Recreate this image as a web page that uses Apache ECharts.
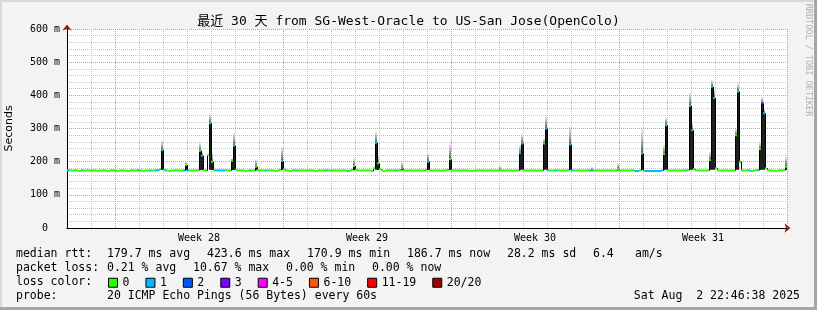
<!DOCTYPE html>
<html><head><meta charset="utf-8">
<script src="https://cdn.jsdelivr.net/npm/echarts@6/dist/echarts.min.js"></script>
<style>html,body{margin:0;padding:0;background:#f3f3f3}#c{width:817px;height:310px}</style>
</head><body><div id="c"></div>
<script>
const chartTitle = '最近 30 天 from SG-West-Oracle to US-San Jose(OpenColo)';
const stepHours = 2;
// median rtt (ms), one value per 2-hour step, one row per day
const median = [
 173,174,173,173,174,173,172,174,173,173,174,173,
 173,173,174,172,173,173,174,173,172,173,174,173,
 173,172,173,174,173,173,172,173,174,173,173,174,
 173,173,172,174,173,173,173,173,174,174,178,235,
 176,173,173,172,173,173,174,173,173,173,173,190,
 174,173,173,174,173,174,233,218,174,173,220,316,
 200,173,174,173,173,173,173,174,173,173,203,248,
 176,173,174,173,173,172,173,173,173,173,185,174,
 173,174,173,173,173,174,173,173,172,173,176,202,
 177,173,173,172,173,174,173,173,173,174,173,173,
 173,174,173,173,172,173,174,173,173,173,174,173,
 173,173,174,173,173,173,174,173,172,173,176,187,
 176,174,173,173,174,173,173,173,172,180,257,195,
 177,174,172,173,174,173,174,173,173,173,174,180,
 174,173,173,174,173,173,173,174,173,173,173,176,
 200,174,173,173,174,173,173,173,173,174,176,207,
 174,173,174,173,173,173,174,173,173,173,172,173,
 173,173,174,173,173,173,173,174,173,173,173,173,
 174,173,173,173,174,173,173,173,173,173,226,255,
 174,173,173,173,174,173,173,173,173,173,255,300,
 174,173,173,173,173,174,173,173,173,173,174,252,
 174,173,173,174,173,173,173,173,174,173,173,173,
 173,174,173,173,173,173,174,173,173,173,173,178,
 173,173,174,173,173,173,174,173,172,172,173,225,
 173,172,172,172,172,172,172,172,172,173,223,310,
 174,173,173,174,173,173,173,173,174,173,174,368,
 295,178,174,173,173,173,173,173,173,205,426,392,
 180,174,173,173,173,174,173,173,173,173,280,411,
 200,174,173,173,174,173,172,173,174,174,238,376,
 346,180,174,173,173,173,172,173,174,173,174,185
];
// steps with packet loss (index into median) and number of lost pings
const lossAt = [0,7,35,41,44,45,47,48,58,60,67,71,74,75,76,77,78,83,91,99,107,114,129,140,154,164,180,
  226,227,239,240,244,251,252,261,262,284,285,287,288,289,290,291,292,293,294,295,296,297,299,309,311,312,
  322,323,335,341,345,347,348];
const lossCount = [1,1,1,1,1,1,1,1,1,1,1,1,1,1,1,1,1,1,1,1,1,1,1,1,1,1,1,
  1,1,1,1,1,1,1,1,1,1,1,1,1,1,1,1,1,1,1,1,1,1,1,1,1,1,
  1,1,1,1,1,3,1];
// smoke (ping spread) around spikes: step index, lowest and highest ping (ms)
const smokeAt = [47,59,66,67,71,72,82,83,94,107,143,154,155,167,180,191,216,226,227,238,239,251,262,275,287,298,299,311,312,321,322,323,334,335,346,347,348,359];
const smokeLo = [175,174,175,175,176,175,175,175,174,175,174,176,175,174,175,175,173,175,176,176,176,175,173,174,175,175,176,176,176,175,176,176,176,176,175,176,176,175];
const smokeHi = [263,200,259,230,346,230,210,290,208,245,212,293,220,200,227,260,188,250,285,270,340,310,185,196,303,250,335,411,320,230,446,420,300,438,260,396,360,217];

const weekMid = [132,300,468,636];
const weekLabels = ['Week 28','Week 29','Week 30','Week 31'];

const lossClasses = ['0','1','2','3','4-5','6-10','11-19','20/20'];
const lossColors = ['#26ff00','#00b8ff','#0059ff','#7e00ff','#ff00ff','#ff5500','#ff0000','#a10000'];
const lossRanges = [[0,0],[1,1],[2,2],[3,3],[4,5],[6,10],[11,19],[20,20]];

const rttStats = [179.7, 423.6, 170.9, 186.7, 28.2];
const rttNames = ['ms avg','ms max','ms min','ms now','ms sd'];
const amPerS = 6.4;
const lossStats = [0.21, 10.67, 0.00, 0.00];
const lossNames = ['% avg','% max','% min','% now'];
const probeText = '20 ICMP Echo Pings (56 Bytes) every 60s';
const stampText = 'Sat Aug  2 22:46:38 2025';

const MONO = "'DejaVu Sans Mono','Noto Sans CJK SC',monospace";
const LFONT = '11.5px ' + MONO;
const GRID_MINOR = '#c4c4c4';
const GRID_MAJOR = '#e58c8c';

const hours = median.map((_, i) => i * stepHours);
const lossOf = median.map(() => 0);
lossAt.forEach((idx, k) => { lossOf[idx] = lossCount[k]; });
const classOf = n => lossRanges.findIndex(r => n >= r[0] && n <= r[1]);

function segItem(params, api) {
  const h = api.value(0), m = api.value(1);
  const p0 = api.coord([h, m]), p1 = api.coord([h + stepHours, m]);
  return {type: 'rect', shape: {x: p0[0], y: p0[1] - 1, width: p1[0] - p0[0], height: 2},
    style: {fill: api.visual('color')}};
}
function connItem(params, api) {
  const h = api.value(0);
  const a = api.coord([h, api.value(1)]), b = api.coord([h, api.value(2)]);
  return {type: 'line', shape: {x1: a[0] + 0.5, y1: a[1], x2: b[0] + 0.5, y2: b[1]},
    style: {stroke: '#000', lineWidth: 1}};
}
function smokeItem(params, api) {
  const h = api.value(0), lo = api.value(1), md = api.value(2), hi = api.value(3);
  const pLo = api.coord([h, lo]), pMd = api.coord([h, md]), pHi = api.coord([h, hi]);
  const w = api.coord([h + stepHours, lo])[0] - pLo[0];
  const children = [];
  if (md > lo) children.push({type: 'rect', shape: {x: pLo[0], y: pMd[1], width: w, height: pLo[1] - pMd[1]},
    style: {fill: '#1e1e1e'}});
  if (hi > md) children.push({type: 'rect', shape: {x: pLo[0], y: pHi[1], width: w, height: pMd[1] - pHi[1]},
    style: {fill: {type: 'linear', x: 0, y: 0, x2: 0, y2: 1,
      colorStops: [{offset: 0, color: 'rgba(90,90,90,0.05)'}, {offset: 1, color: 'rgba(30,30,30,0.75)'}]}}});
  return {type: 'group', children};
}

const series = [];
series.push({name: 'smoke', type: 'custom', z: 2, clip: true, renderItem: smokeItem,
  encode: {x: 0, y: [1, 3]}, silent: true,
  data: smokeAt.map((idx, k) => [hours[idx], smokeLo[k], median[idx], smokeHi[k]])});
series.push({name: 'step', type: 'custom', z: 3, clip: true, renderItem: connItem, silent: true,
  encode: {x: 0, y: [1, 2]},
  data: median.slice(1).map((m, i) => [hours[i + 1], median[i], m])});
lossClasses.forEach((name, c) => {
  series.push({name, type: 'custom', z: 4, clip: true, renderItem: segItem, silent: true,
    itemStyle: {color: lossColors[c]}, encode: {x: 0, y: 1},
    data: median.map((m, i) => [hours[i], m]).filter((_, i) => classOf(lossOf[i]) === c)});
});

const texts = [];
function addText(x, y, text, extra) {
  texts.push(Object.assign({type: 'text', x, y, silent: true,
    style: {text, font: LFONT, fill: '#000', verticalAlign: 'middle'}}, extra || {}));
}
addText(16, 254, 'median rtt:');
const rttX = [107, 207, 307, 407, 507];
rttStats.forEach((v, i) => addText(rttX[i], 254, v.toFixed(1) + ' ' + rttNames[i]));
addText(593, 254, amPerS.toFixed(1));
addText(635, 254, 'am/s');
addText(16, 268, 'packet loss:');
const lossX = [107, 193, 286, 372];
lossStats.forEach((v, i) => addText(lossX[i], 268, v.toFixed(2) + ' ' + lossNames[i]));
addText(16, 282, 'loss color:');
addText(16, 296, 'probe:');
addText(107, 296, probeText);
texts.push({type: 'text', x: 800, y: 296, silent: true,
  style: {text: stampText, font: LFONT, fill: '#000', verticalAlign: 'middle', align: 'right'}});
texts.push({type: 'text', x: 808, y: 60, rotation: -Math.PI / 2, silent: true,
  style: {text: 'RRDTOOL / TOBI OETIKER', font: '8.5px ' + MONO, fill: '#b0b0b0', align: 'center', verticalAlign: 'middle'}});
// frame
texts.push({type: 'rect', shape: {x: 0, y: 0, width: 817, height: 2}, style: {fill: '#d8d8d8'}, silent: true});
texts.push({type: 'rect', shape: {x: 0, y: 0, width: 2, height: 310}, style: {fill: '#d8d8d8'}, silent: true});
texts.push({type: 'rect', shape: {x: 814, y: 0, width: 3, height: 310}, style: {fill: '#a6a6a6'}, silent: true});
texts.push({type: 'rect', shape: {x: 0, y: 307, width: 817, height: 3}, style: {fill: '#a6a6a6'}, silent: true});

// day grid: every 7th line (starting at day 2) is a week boundary
const dayLineColors = [GRID_MINOR, GRID_MINOR, GRID_MAJOR, GRID_MINOR, GRID_MINOR, GRID_MINOR, GRID_MINOR];

const option = {
  animation: false,
  backgroundColor: '#f3f3f3',
  title: {text: chartTitle, left: 'center', top: 15, padding: 0,
    textStyle: {fontFamily: MONO, fontSize: 13, fontWeight: 'normal', color: '#000'}},
  grid: {left: 67, right: 30, top: 29, bottom: 82, show: true, backgroundColor: '#ffffff', borderWidth: 0,
    containLabel: false, outerBoundsMode: 'none'},
  legend: {data: lossClasses, left: 108, top: 277, padding: 0, itemWidth: 9, itemHeight: 9, itemGap: 16,
    icon: 'rect', selectedMode: false,
    itemStyle: {borderColor: '#000', borderWidth: 1},
    textStyle: {fontFamily: MONO, fontSize: 11.5, color: '#000', padding: 0}},
  xAxis: [
    {type: 'value', min: 0, max: 720, interval: 24, position: 'bottom', z: 1,
      axisLine: {show: true, lineStyle: {color: '#000', width: 1}},
      axisTick: {show: false}, axisLabel: {show: false},
      splitLine: {show: true, lineStyle: {color: dayLineColors, width: 1, type: [1, 1]}}},
    {type: 'value', min: 0, max: 720, position: 'bottom', z: 1,
      axisLine: {show: false},
      axisTick: {show: false},
      axisLabel: {show: true, customValues: weekMid, margin: 5,
        formatter: v => weekLabels[weekMid.indexOf(v)] || '',
        fontFamily: MONO, fontSize: 10, color: '#000'},
      splitLine: {show: false}},
    {type: 'value', min: 0, max: 720, position: 'bottom', z: 0,
      axisLine: {show: true, symbol: ['none', 'arrow'], symbolSize: [7, 6], symbolOffset: [0, 3.5],
        lineStyle: {color: '#a01010', width: 1}},
      axisTick: {show: false}, axisLabel: {show: false}, splitLine: {show: false}}
  ],
  yAxis: [
    {type: 'value', min: 0, max: 600, interval: 100, position: 'left', z: 1,
      name: 'Seconds', nameLocation: 'middle', nameGap: 52, nameRotate: 90,
      nameTextStyle: {fontFamily: "'DejaVu Sans',sans-serif", fontSize: 11, color: '#000'},
      axisLine: {show: true, lineStyle: {color: '#000', width: 1}},
      axisTick: {show: false},
      axisLabel: {margin: 7, fontFamily: MONO, fontSize: 10, color: '#000',
        formatter: v => v === 0 ? '0  ' : v + ' m'},
      minorTick: {show: false, splitNumber: 5},
      minorSplitLine: {show: true, lineStyle: {color: GRID_MINOR, width: 1, type: [1, 1]}},
      splitLine: {show: true, lineStyle: {color: GRID_MAJOR, width: 1, type: [1, 1]}}},
    {type: 'value', min: 0, max: 600, position: 'left', z: 0,
      axisLine: {show: true, symbol: ['none', 'arrow'], symbolSize: [7, 6], symbolOffset: [0, 4.5],
        lineStyle: {color: '#a01010', width: 1}},
      axisTick: {show: false}, axisLabel: {show: false}, splitLine: {show: false}}
  ],
  graphic: texts,
  series
};
const chart = echarts.init(document.getElementById('c'));
chart.setOption(option);
</script></body></html>
